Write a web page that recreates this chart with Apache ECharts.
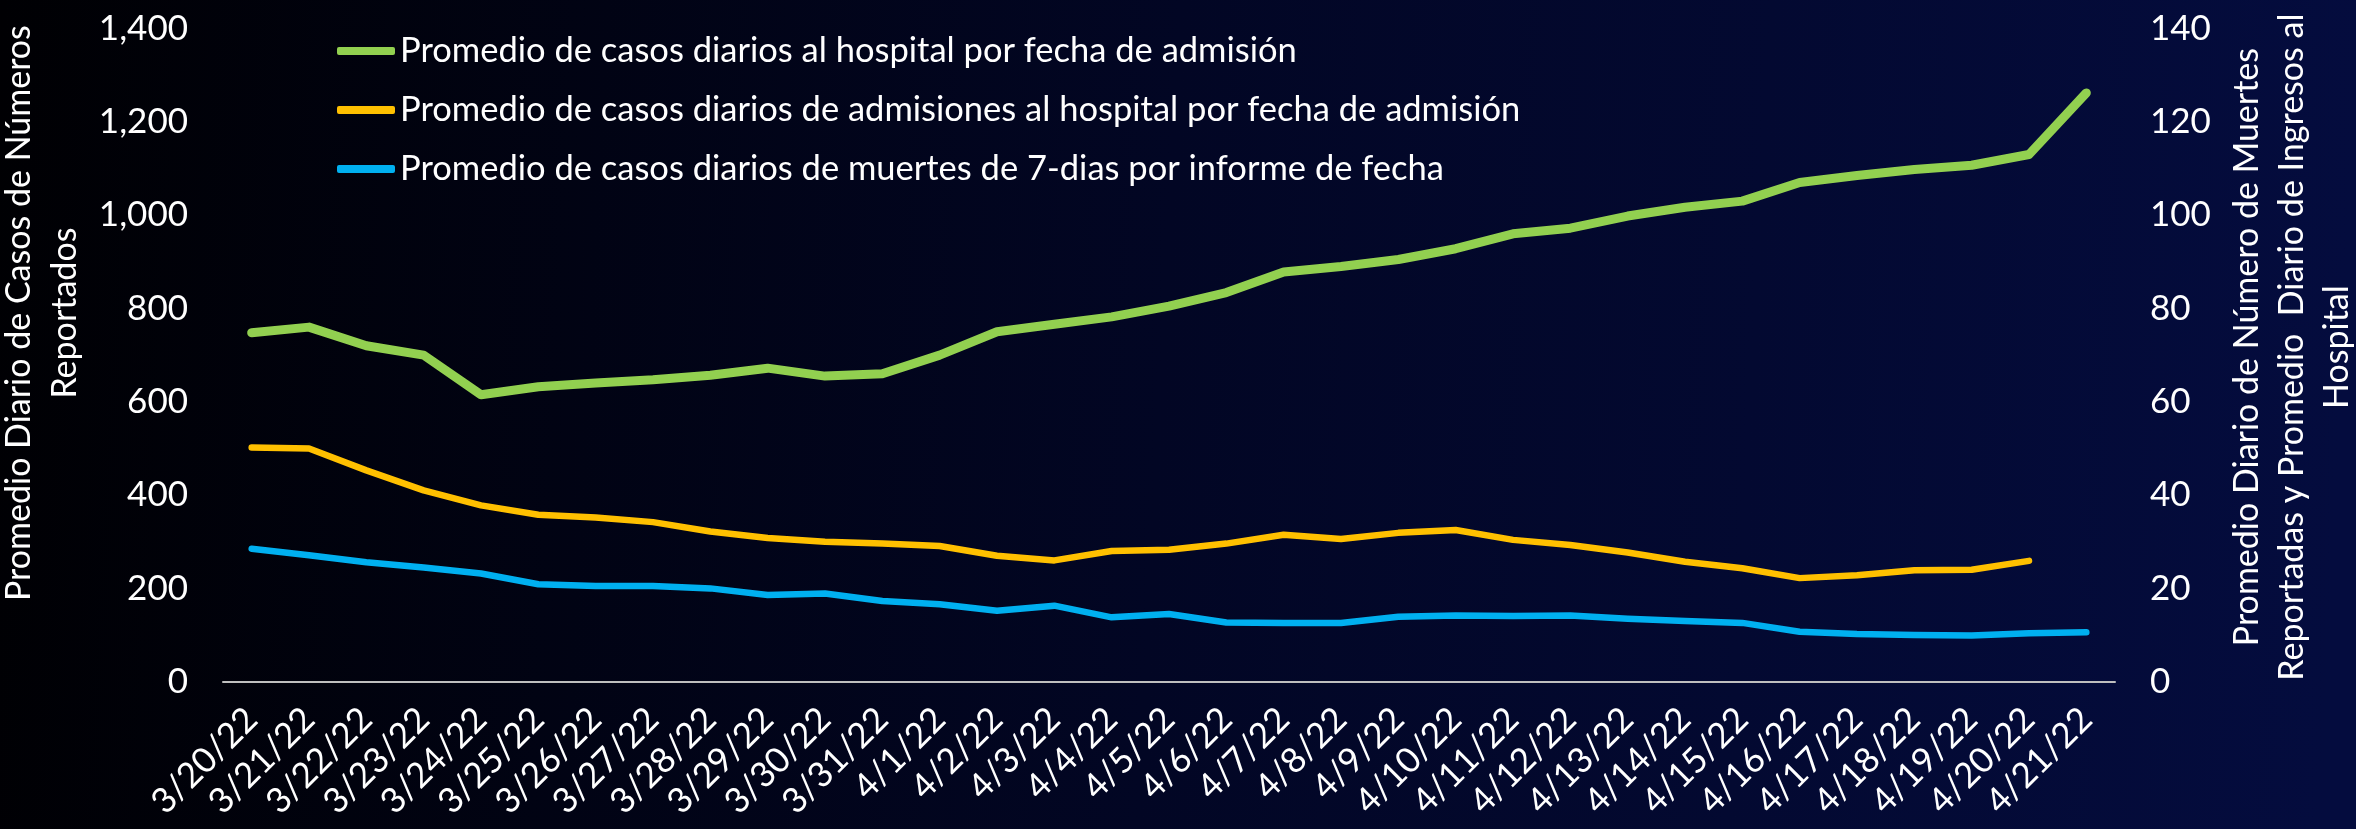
<!DOCTYPE html>
<html>
<head>
<meta charset="utf-8">
<script src="https://cdn.jsdelivr.net/npm/echarts@6/dist/echarts.min.js"></script>
<style>
html,body{margin:0;padding:0;background:#000;}
#chart{width:2356px;height:829px;}
</style>
</head>
<body>
<div id="chart"></div>
<script>
const categories = ['3/20/22','3/21/22','3/22/22','3/23/22','3/24/22','3/25/22','3/26/22','3/27/22','3/28/22','3/29/22','3/30/22','3/31/22','4/1/22','4/2/22','4/3/22','4/4/22','4/5/22','4/6/22','4/7/22','4/8/22','4/9/22','4/10/22','4/11/22','4/12/22','4/13/22','4/14/22','4/15/22','4/16/22','4/17/22','4/18/22','4/19/22','4/20/22','4/21/22'];

const seriesNames = [
  'Promedio de casos diarios al hospital por fecha de admisión',
  'Promedio de casos diarios de admisiones al hospital por fecha de admisión',
  'Promedio de casos diarios de muertes de 7-dias por informe de fecha'
];

// left axis
const casosHospital = [748, 760, 720, 700, 615, 632, 640, 647, 657, 672, 655, 660, 700, 750, 766, 782, 805, 834, 878, 890, 905, 928, 960, 972, 998, 1017, 1030, 1070, 1085, 1098, 1107, 1130, 1262];
// right axis
const admisiones = [50.2, 50.0, 45.3, 41.0, 37.8, 35.8, 35.2, 34.2, 32.2, 30.8, 30.0, 29.6, 29.1, 27.0, 26.0, 28.0, 28.3, 29.6, 31.5, 30.6, 31.9, 32.5, 30.4, 29.3, 27.7, 25.7, 24.3, 22.2, 22.8, 23.9, 24.0, 25.9, null];
const muertes = [28.5, 27.1, 25.6, 24.5, 23.2, 20.9, 20.5, 20.5, 20.0, 18.6, 18.9, 17.3, 16.6, 15.2, 16.3, 13.8, 14.5, 12.7, 12.6, 12.6, 13.9, 14.2, 14.1, 14.2, 13.5, 13.0, 12.6, 10.7, 10.2, 10.0, 9.9, 10.4, 10.6];

const leftAxis = {min: 0, max: 1400, interval: 200};
const rightAxis = {min: 0, max: 140, interval: 20};

const leftTitle = 'Promedio Diario de Casos de Números\nReportados';
const rightTitle = 'Promedio Diario de Número de Muertes\nReportadas y Promedio  Diario de Ingresos al\nHospital';

const colors = ['#92D050', '#FFC000', '#00B0F0'];
const FONT = 'Lato';

const chart = echarts.init(document.getElementById('chart'));
chart.setOption({
  backgroundColor: new echarts.graphic.LinearGradient(0, 0, 1, 0.15, [
    {offset: 0, color: '#000003'},
    {offset: 0.5, color: '#020624'},
    {offset: 1, color: '#040c3e'}
  ]),
  textStyle: {fontFamily: FONT},
  animation: false,
  grid: {left: 223, right: 241, top: 28.5, bottom: 147.3, containLabel: false, outerBoundsMode: 'none'},
  legend: {
    orient: 'vertical',
    left: 332,
    top: 26,
    itemWidth: 58,
    itemHeight: 8,
    itemGap: 19,
    icon: 'roundRect',
    textStyle: {color: '#ffffff', fontSize: 34.5, lineHeight: 40, fontFamily: FONT},
    data: seriesNames
  },
  xAxis: {
    type: 'category',
    data: categories,
    boundaryGap: true,
    axisLine: {show: true, lineStyle: {color: '#bfbfbf', width: 2}},
    axisTick: {show: false},
    axisLabel: {interval: 0, rotate: 45, color: '#ffffff', fontSize: 35, margin: 32, fontFamily: FONT},
    splitLine: {show: false}
  },
  yAxis: [
    {
      type: 'value', position: 'left',
      min: leftAxis.min, max: leftAxis.max, interval: leftAxis.interval,
      axisLine: {show: false}, axisTick: {show: false}, splitLine: {show: false},
      axisLabel: {color: '#ffffff', fontSize: 35, margin: 35, fontFamily: FONT,
        formatter: v => v.toLocaleString('en-US')},
      name: leftTitle, nameLocation: 'middle', nameGap: 110,
      nameTextStyle: {color: '#ffffff', fontSize: 34, lineHeight: 46, fontFamily: FONT, padding: [0, 0, 0, 84]}
    },
    {
      type: 'value', position: 'right',
      min: rightAxis.min, max: rightAxis.max, interval: rightAxis.interval,
      axisLine: {show: false}, axisTick: {show: false}, splitLine: {show: false},
      axisLabel: {color: '#ffffff', fontSize: 35, margin: 35, fontFamily: FONT},
      name: rightTitle, nameLocation: 'middle', nameGap: 110,
      nameTextStyle: {color: '#ffffff', fontSize: 34, lineHeight: 45, fontFamily: FONT, padding: [0, 0, 0, 16]}
    }
  ],
  series: [
    {name: seriesNames[0], type: 'line', yAxisIndex: 0, data: casosHospital, showSymbol: false, symbol: 'none',
      itemStyle: {color: colors[0]}, lineStyle: {color: colors[0], width: 9, cap: 'round', join: 'round'}},
    {name: seriesNames[1], type: 'line', yAxisIndex: 1, data: admisiones, showSymbol: false, symbol: 'none',
      itemStyle: {color: colors[1]}, lineStyle: {color: colors[1], width: 6.5, cap: 'round', join: 'round'}},
    {name: seriesNames[2], type: 'line', yAxisIndex: 1, data: muertes, showSymbol: false, symbol: 'none',
      itemStyle: {color: colors[2]}, lineStyle: {color: colors[2], width: 6.5, cap: 'round', join: 'round'}}
  ]
});
</script>
</body>
</html>
